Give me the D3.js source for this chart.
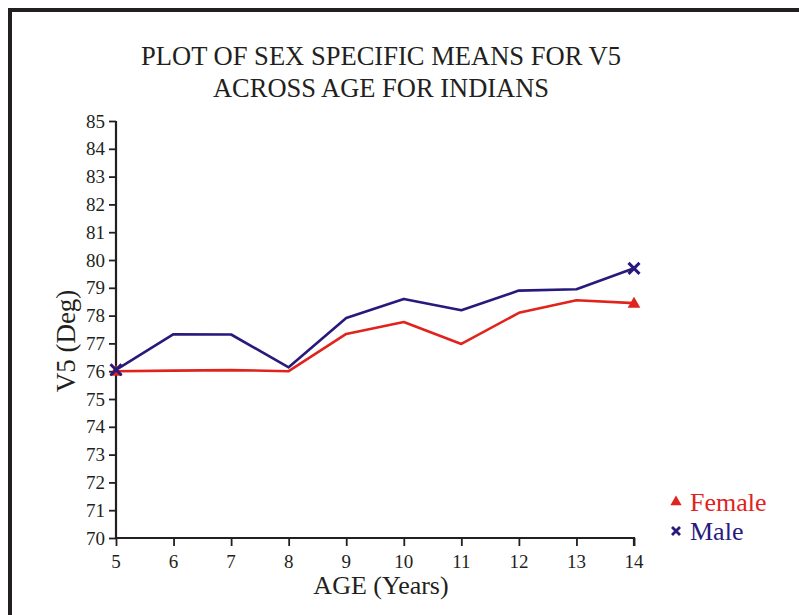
<!DOCTYPE html>
<html><head><meta charset="utf-8">
<script src="https://cdn.jsdelivr.net/npm/d3@7"></script>
<style>body{margin:0;background:#fff}svg{display:block}</style>
</head><body>
<script>
const ages = [5, 6, 7, 8, 9, 10, 11, 12, 13, 14];
const female = [76.0, 76.02, 76.04, 76.0, 77.34, 77.77, 76.98, 78.1, 78.55, 78.45];
const male = [76.05, 77.33, 77.32, 76.14, 77.91, 78.6, 78.19, 78.9, 78.95, 79.7];
const yTicks = [70,71,72,73,74,75,76,77,78,79,80,81,82,83,84,85];
const titleLines = ["PLOT OF SEX SPECIFIC MEANS FOR V5", "ACROSS AGE FOR INDIANS"];
const legendLabels = ["Female", "Male"];

const W = 799, H = 615;
const red = "#e0231d", navy = "#281a7c", ink = "#231f20";
const font = "Liberation Serif, Times New Roman, serif";

const svg = d3.select("body").append("svg").attr("width", W).attr("height", H);
svg.append("rect").attr("width", W).attr("height", H).attr("fill", "#fff");
// frame
svg.append("path").attr("d", "M10,615 V10 H799").attr("fill", "none").attr("stroke", ink).attr("stroke-width", 4);

const x = d3.scaleLinear().domain([5, 14]).range([116, 634]);
const y = d3.scaleLinear().domain([70, 85]).range([538, 121]);

// title
const tl = [{t: titleLines[0], y: 65, w: 480}, {t: titleLines[1], y: 97, w: 336}];
svg.selectAll("text.title").data(tl).enter().append("text")
  .attr("x", 381).attr("y", d => d.y).attr("text-anchor", "middle")
  .attr("font-family", font).attr("font-size", 27).attr("fill", ink)
  .attr("textLength", d => d.w).attr("lengthAdjust", "spacingAndGlyphs")
  .text(d => d.t);

// axes (lines + ticks from d3 axis, labels drawn from the same scales)
const yAxis = d3.axisLeft(y).tickValues(yTicks).tickSize(7).tickFormat("");
const gy = svg.append("g").attr("transform", "translate(116,0)").call(yAxis);
const xAxis = d3.axisBottom(x).tickValues(ages).tickSize(8).tickFormat("");
const gx = svg.append("g").attr("transform", "translate(0,538)").call(xAxis);
[gx, gy].forEach(g => {
  g.select(".domain").attr("stroke", ink).attr("stroke-width", 2.2);
  g.selectAll(".tick line").attr("stroke", ink).attr("stroke-width", 1.8);
});
gy.select(".domain").attr("d", "M0,121V538");
gx.select(".domain").attr("d", "M116,0H634V8");

svg.append("g").selectAll("text").data(yTicks).enter().append("text")
  .attr("x", 105).attr("y", d => y(d) + 6.5).attr("text-anchor", "end")
  .attr("font-family", font).attr("font-size", 19).attr("fill", ink).text(d => d);
svg.append("g").selectAll("text").data(ages).enter().append("text")
  .attr("x", d => x(d)).attr("y", 568).attr("text-anchor", "middle")
  .attr("font-family", font).attr("font-size", 19).attr("fill", ink).text(d => d);

// axis titles
svg.append("text").attr("x", 381).attr("y", 594).attr("text-anchor", "middle")
  .attr("font-family", font).attr("font-size", 26).attr("fill", ink).text("AGE (Years)");
svg.append("text").attr("transform", "translate(75,341) rotate(-90)").attr("text-anchor", "middle")
  .attr("font-family", font).attr("font-size", 27).attr("fill", ink).text("V5 (Deg)");

// lines
const line = d3.line().x((d, i) => x(ages[i])).y(d => y(d));
svg.append("path").datum(female).attr("d", line).attr("fill", "none").attr("stroke", red).attr("stroke-width", 2.6).attr("stroke-linejoin", "round");
svg.append("path").datum(male).attr("d", line).attr("fill", "none").attr("stroke", navy).attr("stroke-width", 2.6).attr("stroke-linejoin", "round");

// markers at ends
const tri = d3.symbol().type(d3.symbolTriangle).size(70);
const crossPath = s => `M${-s},${-s}L${s},${s}M${-s},${s}L${s},${-s}`;
[0, ages.length - 1].forEach(i => {
  svg.append("path").attr("d", tri()).attr("fill", red)
    .attr("transform", `translate(${x(ages[i])},${y(female[i]) + 1})`);
  svg.append("path").attr("d", crossPath(5.5)).attr("fill", "none").attr("stroke", navy).attr("stroke-width", 3)
    .attr("transform", `translate(${x(ages[i])},${y(male[i])})`);
});

// legend
const lg = svg.append("g");
const items = [{label: legendLabels[0], c: red, yy: 502}, {label: legendLabels[1], c: navy, yy: 531}];
items.forEach((d, i) => {
  if (i === 0) lg.append("path").attr("d", d3.symbol().type(d3.symbolTriangle).size(55)()).attr("fill", d.c)
    .attr("transform", `translate(676,${d.yy})`);
  else lg.append("path").attr("d", crossPath(4)).attr("stroke", d.c).attr("stroke-width", 2.8).attr("fill", "none")
    .attr("transform", `translate(676,${d.yy})`);
  lg.append("text").attr("x", 690).attr("y", d.yy + 9).attr("font-family", font).attr("font-size", 26)
    .attr("fill", d.c).text(d.label);
});
</script>
</body></html>
